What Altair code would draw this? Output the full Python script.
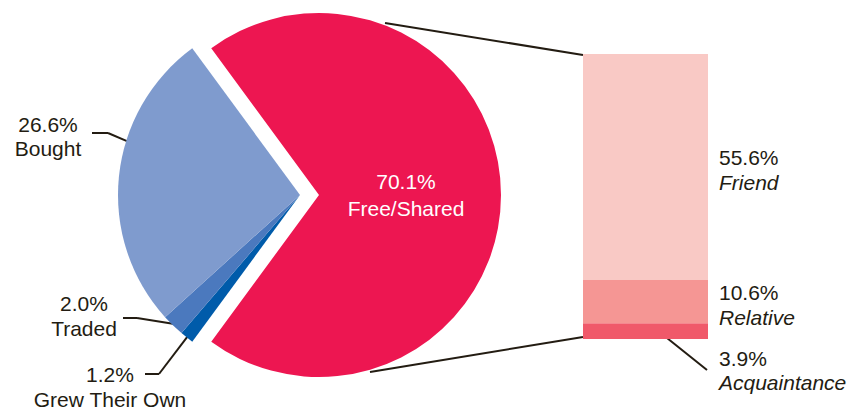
import math
import altair as alt
import pandas as pd

# ---------------- data ----------------
pie_labels = ["Grew Their Own", "Traded", "Bought", "Free/Shared"]
pie_values = [1.2, 2.0, 26.6, 70.1]
pie_colors = ["#005BAA", "#4B79BE", "#7F9BCE", "#ED1651"]

bar_labels = ["Acquaintance", "Relative", "Friend"]
bar_values = [3.9, 10.6, 55.6]
bar_colors = ["#F0596A", "#F59694", "#F9C9C5"]

# ---------------- layout ----------------
W, H = 859, 411
CX, CY, R = 300, 195, 182
EXPLODE = 19
INK = "#231C12"
FONT = "Liberation Sans"
FS = 21
BAR_X0, BAR_X1, BAR_BOTTOM, BAR_TOP = 583, 708, 339, 54

total = sum(pie_values)
red_deg = pie_values[-1] / total * 360
a0_deg = 90 + red_deg / 2          # exploded slice centred at 3 o'clock
a0 = math.radians(a0_deg)

starts, ends, acc = [], [], 0.0
for v in pie_values:
    starts.append(acc)
    acc += v
    ends.append(acc)

pie_df = pd.DataFrame({
    "label": pie_labels, "value": pie_values, "start": starts, "end": ends,
    "color": pie_colors,
})
theta_scale = alt.Scale(domain=[0, total], range=[a0, a0 + 2 * math.pi])

arc_base = alt.Chart(pie_df).mark_arc(radius=R)
blue = arc_base.transform_filter(alt.datum.label != "Free/Shared").encode(
    theta=alt.Theta("start:Q", scale=theta_scale),
    theta2="end:Q",
    color=alt.Color("color:N", scale=None),
    x=alt.value(CX), y=alt.value(CY),
)
red = arc_base.transform_filter(alt.datum.label == "Free/Shared").encode(
    theta=alt.Theta("start:Q", scale=theta_scale),
    theta2="end:Q",
    color=alt.Color("color:N", scale=None),
    x=alt.value(CX + EXPLODE), y=alt.value(CY),
)

# ---------------- stacked bar ----------------
b0, b1, acc = [], [], 0.0
for v in bar_values:
    b0.append(acc)
    acc += v
    b1.append(acc)
bar_total = acc
bar_df = pd.DataFrame({
    "label": bar_labels, "value": bar_values, "b0": b0, "b1": b1,
    "mid": [(a + b) / 2 for a, b in zip(b0, b1)],
    "pct": [f"{v:.1f}%" for v in bar_values],
    "color": bar_colors,
})
ys = alt.Scale(domain=[0, bar_total], range=[BAR_BOTTOM, BAR_TOP], nice=False, zero=False)

bar = alt.Chart(bar_df).mark_rect().encode(
    x=alt.value(BAR_X0), x2=alt.value(BAR_X1),
    y=alt.Y("b0:Q", scale=ys, axis=None), y2="b1:Q",
    color=alt.Color("color:N", scale=None),
)
inside = bar_df[bar_df.label != "Acquaintance"]
bar_pct = alt.Chart(inside).mark_text(
    align="left", baseline="alphabetic", dy=-2, font=FONT, fontSize=FS, color=INK
).encode(x=alt.value(719), y=alt.Y("mid:Q", scale=ys, axis=None), text="pct:N")
bar_name = alt.Chart(inside).mark_text(
    align="left", baseline="alphabetic", dy=23, font=FONT, fontSize=FS, color=INK,
    fontStyle="italic",
).encode(x=alt.value(719), y=alt.Y("mid:Q", scale=ys, axis=None), text="label:N")

# ---------------- annotations ----------------
pv = dict(zip(pie_labels, pie_values))
bv = dict(zip(bar_labels, bar_values))

normal_rows = [
    (f"{pv['Bought']:.1f}%", 48, 132), ("Bought", 48, 156),
    (f"{pv['Traded']:.1f}%", 84, 311), ("Traded", 84, 336),
    (f"{pv['Grew Their Own']:.1f}%", 110, 382), ("Grew Their Own", 110, 407),
]
normal_df = pd.DataFrame(normal_rows, columns=["t", "x", "y"])
normal_text = alt.Chart(normal_df).mark_text(
    align="center", baseline="alphabetic", font=FONT, fontSize=FS, color=INK
).encode(x=alt.X("x:Q", scale=None), y=alt.Y("y:Q", scale=None), text="t:N")

white_df = pd.DataFrame([(f"{pv['Free/Shared']:.1f}%", 406, 189), ("Free/Shared", 406, 216)],
                        columns=["t", "x", "y"])
white_text = alt.Chart(white_df).mark_text(
    align="center", baseline="alphabetic", font=FONT, fontSize=FS, color="white"
).encode(x=alt.X("x:Q", scale=None), y=alt.Y("y:Q", scale=None), text="t:N")

acq_df = pd.DataFrame([(f"{bv['Acquaintance']:.1f}%", 719, 366)], columns=["t", "x", "y"])
acq_pct = alt.Chart(acq_df).mark_text(
    align="left", baseline="alphabetic", font=FONT, fontSize=FS, color=INK
).encode(x=alt.X("x:Q", scale=None), y=alt.Y("y:Q", scale=None), text="t:N")
acq_name_df = pd.DataFrame([("Acquaintance", 719, 390)], columns=["t", "x", "y"])
acq_name = alt.Chart(acq_name_df).mark_text(
    align="left", baseline="alphabetic", font=FONT, fontSize=FS, color=INK, fontStyle="italic"
).encode(x=alt.X("x:Q", scale=None), y=alt.Y("y:Q", scale=None), text="t:N")


def on_circle(label, frac, r=180):
    i = pie_labels.index(label)
    deg = a0_deg + (starts[i] + frac * pie_values[i]) / total * 360
    rad = math.radians(deg)
    return CX + r * math.sin(rad), CY - r * math.cos(rad)


bx, by = on_circle("Bought", 0.62)
tx, ty = on_circle("Traded", 0.5)
gx, gy = on_circle("Grew Their Own", 0.5)
segs = [
    (92, 133, 108, 133), (108, 133, bx, by),
    (123, 318, 137, 318), (137, 318, tx, ty),
    (145, 374, 159, 374), (159, 374, gx, gy),
    (385, 23, BAR_X0, 55), (370, 372, BAR_X0, 337),
    (667, 338, 707, 370),
]
seg_df = pd.DataFrame(segs, columns=["x", "y", "x2", "y2"])
rules = alt.Chart(seg_df).mark_rule(color=INK, strokeWidth=2).encode(
    x=alt.X("x:Q", scale=None), y=alt.Y("y:Q", scale=None), x2="x2:Q", y2="y2:Q"
)

chart = alt.layer(
    rules, blue, red, bar, bar_pct, bar_name,
    normal_text, white_text, acq_pct, acq_name,
).resolve_scale(x="independent", y="independent").properties(
    width=W, height=H, padding=0,
    autosize=alt.AutoSizeParams(type="none"),
    background="white",
).configure_view(strokeWidth=0)

chart.save("out.html", embed_options={"renderer": "svg", "actions": False})
